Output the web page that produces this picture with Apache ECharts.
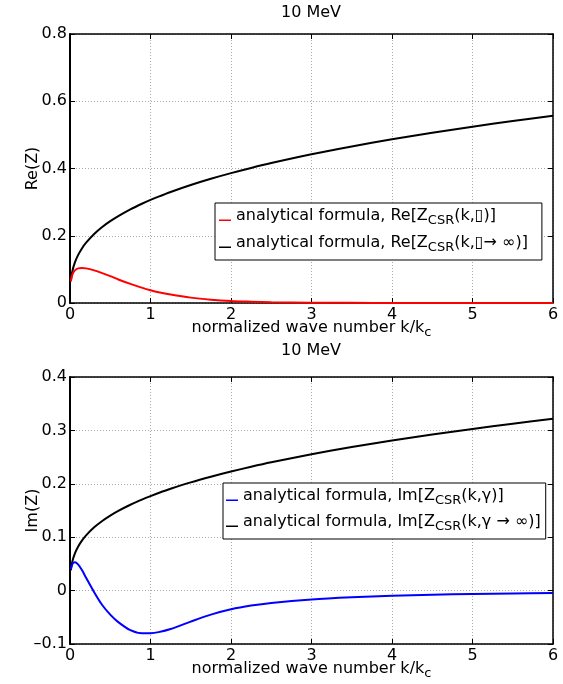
<!DOCTYPE html>
<html>
<head>
<meta charset="utf-8">
<script src="https://cdn.jsdelivr.net/npm/echarts@6/dist/echarts.min.js"></script>
<style>
html,body{margin:0;padding:0;background:#fff;}
#chart{width:563px;height:684px;}
</style>
</head>
<body>
<div id="chart"></div>
<script>
// wave numbers k/kc
var kValues = [0.01, 0.03, 0.06, 0.1, 0.15, 0.2, 0.3, 0.4, 0.5, 0.6, 0.75, 0.9, 1.0, 1.1, 1.25, 1.5, 1.75, 2, 2.25, 2.5, 3, 3.5, 4, 4.5, 5, 5.5, 6];
// Re[Z] finite gamma (red)
var reGamma = [0.064, 0.085, 0.097, 0.103, 0.104, 0.103, 0.097, 0.089, 0.080, 0.070, 0.057, 0.045, 0.038, 0.032, 0.025, 0.016, 0.010, 0.006, 0.004, 0.0025, 0.001, 0.0005, 0.0002, 0.0001, 0, 0, 0];
// Re[Z] gamma -> inf (black)
var reInf = [0.066, 0.0953, 0.120, 0.1423, 0.1629, 0.1793, 0.2052, 0.2259, 0.2433, 0.2586, 0.2786, 0.296, 0.3066, 0.3165, 0.3303, 0.351, 0.3695, 0.3863, 0.4017, 0.4161, 0.4422, 0.4655, 0.4867, 0.5062, 0.5243, 0.5412, 0.5571];
// Im[Z] finite gamma (blue)
var imGamma = [0.040, 0.050, 0.053, 0.049, 0.038, 0.024, -0.003, -0.027, -0.045, -0.059, -0.074, -0.0798, -0.0797, -0.0778, -0.072, -0.058, -0.045, -0.035, -0.028, -0.023, -0.0165, -0.0125, -0.0097, -0.0078, -0.0064, -0.0054, -0.0046];
// Im[Z] gamma -> inf (black)
var imInf = [0.0381, 0.055, 0.0693, 0.0822, 0.0941, 0.1035, 0.1185, 0.1304, 0.1405, 0.1493, 0.1608, 0.1709, 0.177, 0.1827, 0.1907, 0.2027, 0.2133, 0.223, 0.2319, 0.2402, 0.2553, 0.2688, 0.281, 0.2923, 0.3027, 0.3125, 0.3216];

var titleText = '10 MeV';
var xName = 'normalized wave number k/k';
var names = [
  'analytical formula, Re[Z_CSR(k,\u25AF)]',
  'analytical formula, Re[Z_CSR(k,\u25AF\u2192 \u221E)]',
  'analytical formula, Im[Z_CSR(k,\u03B3)]',
  'analytical formula, Im[Z_CSR(k,\u03B3 \u2192 \u221E)]'
];

function pairs(ys){ return kValues.map(function(k,i){ return [k, ys[i]]; }); }

var FONT = '"DejaVu Sans", sans-serif';
var FS = 16;
var gridTop = [34, 377];
var gridH = [269, 267];

function xAxes(gi){
  var common = {type:'value', gridIndex:gi, min:0, max:6, interval:1};
  return [
    Object.assign({}, common, {
      position:'bottom',
      axisLine:{show:true, onZero:false, lineStyle:{color:'#000', width:1.5}},
      axisTick:{show:true, inside:true, length:5, lineStyle:{color:'#000'}},
      axisLabel:{color:'#000', fontSize:FS, fontFamily:FONT, margin:4},
      splitLine:{show:true, lineStyle:{color:'#aaa', type:[1,2], width:1}},
      name:'{a|' + xName + '}{s|c}',
      nameLocation:'middle', nameGap:14, nameMoveOverlap:false,
      nameTextStyle:{rich:{
        a:{fontSize:FS, fontFamily:FONT, color:'#000', lineHeight:22},
        s:{fontSize:13, fontFamily:FONT, color:'#000', lineHeight:12, verticalAlign:'bottom'}
      }}
    }),
    Object.assign({}, common, {
      position:'top',
      axisLine:{show:true, onZero:false, lineStyle:{color:'#000', width:1.5}},
      axisTick:{show:true, inside:true, length:5, lineStyle:{color:'#000'}},
      axisLabel:{show:false}, splitLine:{show:false}
    })
  ];
}
function yAxes(gi, min, max, interval, name){
  var common = {type:'value', gridIndex:gi, min:min, max:max, interval:interval};
  return [
    Object.assign({}, common, {
      position:'left',
      axisLine:{show:true, onZero:false, lineStyle:{color:'#000', width:2}},
      axisTick:{show:true, inside:true, length:5, lineStyle:{color:'#000'}},
      axisLabel:{color:'#000', fontSize:FS, fontFamily:FONT, margin:3,
        formatter:function(v){ return String(+v.toFixed(2)).replace('-', '\u2013'); }},
      splitLine:{show:true, lineStyle:{color:'#aaa', type:[1,2], width:1}},
      name:name, nameLocation:'middle', nameGap:29, nameRotate:90, nameMoveOverlap:false,
      nameTextStyle:{color:'#000', fontSize:FS, fontFamily:FONT}
    }),
    Object.assign({}, common, {
      position:'right',
      axisLine:{show:true, onZero:false, lineStyle:{color:'#000', width:1.5}},
      axisTick:{show:true, inside:true, length:5, lineStyle:{color:'#000'}},
      axisLabel:{show:false}, splitLine:{show:false}
    })
  ];
}

var legendRich = {
  a:{fontSize:FS, fontFamily:FONT, color:'#000', lineHeight:22},
  s:{fontSize:13, fontFamily:FONT, color:'#000', lineHeight:12, verticalAlign:'bottom'}
};
function legendFmt(name){
  return '{a|' + name.replace('_CSR', '}{s|CSR}{a|') + '}';
}
var legendIcon = 'path://M0,0L0.01,0L0.01,0.01L0,0.01Z M0,8.6L12,8.6L12,10L0,10Z';

var option = {
  animation:false,
  backgroundColor:'#fff',
  graphic:[
    {type:'text', x:311, y:13, style:{text:titleText, fill:'#000', font:FS + 'px ' + FONT, textAlign:'center', textVerticalAlign:'middle'}},
    {type:'text', x:311, y:351, style:{text:titleText, fill:'#000', font:FS + 'px ' + FONT, textAlign:'center', textVerticalAlign:'middle'}}
  ],
  grid:[
    {left:70, right:10, top:gridTop[0], height:gridH[0], show:false},
    {left:70, right:10, top:gridTop[1], height:gridH[1], show:false}
  ],
  xAxis: xAxes(0).concat(xAxes(1)),
  yAxis: yAxes(0, 0, 0.8, 0.2, 'Re(Z)').concat(yAxes(1, -0.1, 0.4, 0.1, 'Im(Z)')),
  legend:[
    {data:[names[0], names[1]], orient:'vertical', left:215, top:203,
     backgroundColor:'#fff', borderColor:'#000', borderWidth:1, padding:[5,14,6,4],
     itemWidth:12, itemHeight:12, itemGap:8, icon:legendIcon, formatter:legendFmt,
     textStyle:{rich:legendRich}, selectedMode:false},
    {data:[names[2], names[3]], orient:'vertical', left:223, top:483,
     backgroundColor:'#fff', borderColor:'#000', borderWidth:1, padding:[5,5,6,3], itemGap:7,
     itemWidth:12, itemHeight:12, icon:legendIcon, formatter:legendFmt,
     textStyle:{rich:legendRich}, selectedMode:false}
  ],
  series:[
    {name:names[0], type:'line', xAxisIndex:0, yAxisIndex:0, data:pairs(reGamma), showSymbol:false, symbol:'none',
     smooth:0.3, lineStyle:{color:'#ff0000', width:2}, itemStyle:{color:'#ff0000'}, z:3},
    {name:names[1], type:'line', xAxisIndex:0, yAxisIndex:0, data:pairs(reInf), showSymbol:false, symbol:'none',
     smooth:0.3, lineStyle:{color:'#000', width:2}, itemStyle:{color:'#000'}, z:2},
    {name:names[2], type:'line', xAxisIndex:2, yAxisIndex:2, data:pairs(imGamma), showSymbol:false, symbol:'none',
     smooth:0.3, lineStyle:{color:'#0000ff', width:2}, itemStyle:{color:'#0000ff'}, z:3},
    {name:names[3], type:'line', xAxisIndex:2, yAxisIndex:2, data:pairs(imInf), showSymbol:false, symbol:'none',
     smooth:0.3, lineStyle:{color:'#000', width:2}, itemStyle:{color:'#000'}, z:2}
  ]
};
var chart = echarts.init(document.getElementById('chart'), null, {renderer:'canvas'});
chart.setOption(option);
</script>
</body>
</html>
